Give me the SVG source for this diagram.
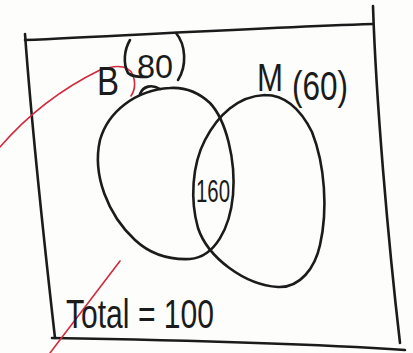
<svg xmlns="http://www.w3.org/2000/svg" width="413" height="353" viewBox="0 0 413 353">
<style>
.ink{fill:none;stroke:#1b1b1b;stroke-width:2.6;stroke-linecap:round;stroke-linejoin:round}
.red{fill:none;stroke:#d22a3c;stroke-width:1.6;stroke-linecap:round}
.t{font-family:"Liberation Sans","DejaVu Sans",sans-serif;fill:#1b1b1b}
</style>
<rect width="413" height="353" fill="#fdfdfb"/>
<g id="frame">
<path class="ink" d="M25 40 C120 36 250 28 373 24"/>
<path class="ink" d="M25 34 C32 130 45 250 55 338"/>
<path class="ink" d="M52 338 C170 340 300 343 405 350"/>
<path class="ink" d="M373 6 C376 100 388 240 400 343"/>
</g>
<g id="annotations">
<path class="red" d="M0 147 C25 118 55 92 100 70 C115 65 128 64 133 75 C136 84 135 90 131 96"/>
<path class="red" d="M50 353 L120 261"/>
</g>
<g id="setB">
<path class="ink" d="M170 88 C135 90 108 112 100 140 C92 175 108 215 135 240 C150 254 168 260 190 259 C215 257 230 228 233 195 C236 160 226 120 210 103 C198 92 185 87 170 88"/>
<path class="ink" stroke-width="1.6" d="M140 94 C143 86 152 84 160 89"/>
<text class="t" x="97" y="95" font-size="40" textLength="22" lengthAdjust="spacingAndGlyphs">B</text>
<path class="ink" stroke-width="2.2" d="M130 40 C124 50 123 64 128 73 C132 77 140 77 147 77"/>
<text class="t" x="137" y="78" font-size="34" textLength="36" lengthAdjust="spacingAndGlyphs">80</text>
<path class="ink" stroke-width="2.2" d="M176 33 C186 45 187 66 178 80"/>
</g>
<g id="setM">
<path class="ink" d="M265 95 C238 96 218 115 205 140 C192 165 190 200 198 228 C208 258 245 285 278 287 C300 288 315 268 320 245 C328 210 325 165 312 132 C300 108 285 95 265 95"/>
<text class="t" x="257" y="91" font-size="38" textLength="26" lengthAdjust="spacingAndGlyphs">M</text>
<text class="t" x="292" y="100" font-size="40" textLength="56" lengthAdjust="spacingAndGlyphs">(60)</text>
</g>
<g id="intersection">
<text class="t" x="196" y="202" font-size="31" textLength="34" lengthAdjust="spacingAndGlyphs">160</text>
</g>
<g id="total">
<text class="t" x="66" y="328" font-size="40" textLength="148" lengthAdjust="spacingAndGlyphs">Total = 100</text>
</g>
</svg>
